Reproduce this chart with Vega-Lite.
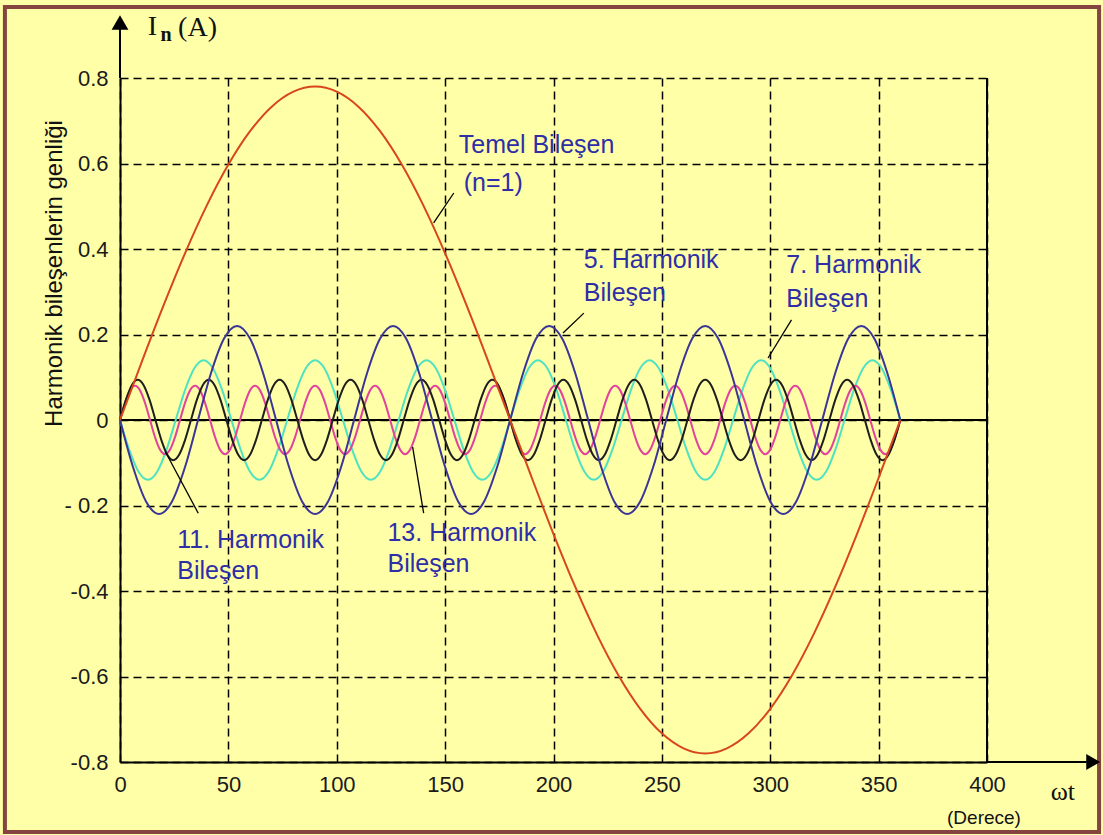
{
"$schema": "https://vega.github.io/schema/vega-lite/v6.json",
"width": 867, "height": 684,
"autosize": {"type": "none"},
"padding": {"left": 120, "top": 78, "right": 116, "bottom": 73},
"background": "#FFFFA8",
"config": {"view": {"stroke": null}, "font": "Liberation Sans"},
"datasets": {
"frame": [{"x":-53.1,"x2":451.7,"y":0.966,"y2":-0.964}],
"solid": [{"x":0,"y":0,"x2":400,"y2":0},{"x":400,"y":-0.8,"x2":400,"y2":0.8},{"x":0,"y":0.8,"x2":0,"y2":0.92},{"x":400,"y":-0.8,"x2":446,"y2":-0.8}],
"uparrow": [{"x":0,"y":0.93}],
"rightarrow": [{"x":449,"y":-0.8}],
"red": [{"x":0,"y":0},{"x":10,"y":0.1354},{"x":20,"y":0.2668},{"x":30,"y":0.39},{"x":40,"y":0.5014},{"x":50,"y":0.5975},{"x":60,"y":0.6755},{"x":70,"y":0.733},{"x":80,"y":0.7681},{"x":90,"y":0.78},{"x":100,"y":0.7681},{"x":110,"y":0.733},{"x":120,"y":0.6755},{"x":130,"y":0.5975},{"x":140,"y":0.5014},{"x":150,"y":0.39},{"x":160,"y":0.2668},{"x":170,"y":0.1354},{"x":180,"y":0},{"x":190,"y":-0.1354},{"x":200,"y":-0.2668},{"x":210,"y":-0.39},{"x":220,"y":-0.5014},{"x":230,"y":-0.5975},{"x":240,"y":-0.6755},{"x":250,"y":-0.733},{"x":260,"y":-0.7681},{"x":270,"y":-0.78},{"x":280,"y":-0.7681},{"x":290,"y":-0.733},{"x":300,"y":-0.6755},{"x":310,"y":-0.5975},{"x":320,"y":-0.5014},{"x":330,"y":-0.39},{"x":340,"y":-0.2668},{"x":350,"y":-0.1354},{"x":360,"y":0}],
"h5": [{"x":0,"y":0},{"x":6,"y":-0.11},{"x":12,"y":-0.1905},{"x":18,"y":-0.22},{"x":24,"y":-0.1905},{"x":30,"y":-0.11},{"x":36,"y":0},{"x":42,"y":0.11},{"x":48,"y":0.1905},{"x":54,"y":0.22},{"x":60,"y":0.1905},{"x":66,"y":0.11},
{"x":72,"y":0},{"x":78,"y":-0.11},{"x":84,"y":-0.1905},{"x":90,"y":-0.22},{"x":96,"y":-0.1905},{"x":102,"y":-0.11},{"x":108,"y":0},{"x":114,"y":0.11},{"x":120,"y":0.1905},{"x":126,"y":0.22},{"x":132,"y":0.1905},{"x":138,"y":0.11},
{"x":144,"y":0},{"x":150,"y":-0.11},{"x":156,"y":-0.1905},{"x":162,"y":-0.22},{"x":168,"y":-0.1905},{"x":174,"y":-0.11},{"x":180,"y":0},{"x":186,"y":0.11},{"x":192,"y":0.1905},{"x":198,"y":0.22},{"x":204,"y":0.1905},{"x":210,"y":0.11},
{"x":216,"y":0},{"x":222,"y":-0.11},{"x":228,"y":-0.1905},{"x":234,"y":-0.22},{"x":240,"y":-0.1905},{"x":246,"y":-0.11},{"x":252,"y":0},{"x":258,"y":0.11},{"x":264,"y":0.1905},{"x":270,"y":0.22},{"x":276,"y":0.1905},{"x":282,"y":0.11},
{"x":288,"y":0},{"x":294,"y":-0.11},{"x":300,"y":-0.1905},{"x":306,"y":-0.22},{"x":312,"y":-0.1905},{"x":318,"y":-0.11},{"x":324,"y":0},{"x":330,"y":0.11},{"x":336,"y":0.1905},{"x":342,"y":0.22},{"x":348,"y":0.1905},{"x":354,"y":0.11},{"x":360,"y":0}],
"h7": [{"x":0,"y":0},{"x":4.29,"y":-0.07},{"x":8.57,"y":-0.1212},{"x":12.86,"y":-0.14},{"x":17.14,"y":-0.1212},{"x":21.43,"y":-0.07},{"x":25.71,"y":0},{"x":30,"y":0.07},{"x":34.29,"y":0.1212},{"x":38.57,"y":0.14},{"x":42.86,"y":0.1212},{"x":47.14,"y":0.07},
{"x":51.43,"y":0},{"x":55.71,"y":-0.07},{"x":60,"y":-0.1212},{"x":64.29,"y":-0.14},{"x":68.57,"y":-0.1212},{"x":72.86,"y":-0.07},{"x":77.14,"y":0},{"x":81.43,"y":0.07},{"x":85.71,"y":0.1212},{"x":90,"y":0.14},{"x":94.29,"y":0.1212},{"x":98.57,"y":0.07},
{"x":102.86,"y":0},{"x":107.14,"y":-0.07},{"x":111.43,"y":-0.1212},{"x":115.71,"y":-0.14},{"x":120,"y":-0.1212},{"x":124.29,"y":-0.07},{"x":128.57,"y":0},{"x":132.86,"y":0.07},{"x":137.14,"y":0.1212},{"x":141.43,"y":0.14},{"x":145.71,"y":0.1212},{"x":150,"y":0.07},
{"x":154.29,"y":0},{"x":158.57,"y":-0.07},{"x":162.86,"y":-0.1212},{"x":167.14,"y":-0.14},{"x":171.43,"y":-0.1212},{"x":175.71,"y":-0.07},{"x":180,"y":0},{"x":184.29,"y":0.07},{"x":188.57,"y":0.1212},{"x":192.86,"y":0.14},{"x":197.14,"y":0.1212},{"x":201.43,"y":0.07},
{"x":205.71,"y":0},{"x":210,"y":-0.07},{"x":214.29,"y":-0.1212},{"x":218.57,"y":-0.14},{"x":222.86,"y":-0.1212},{"x":227.14,"y":-0.07},{"x":231.43,"y":0},{"x":235.71,"y":0.07},{"x":240,"y":0.1212},{"x":244.29,"y":0.14},{"x":248.57,"y":0.1212},{"x":252.86,"y":0.07},
{"x":257.14,"y":0},{"x":261.43,"y":-0.07},{"x":265.71,"y":-0.1212},{"x":270,"y":-0.14},{"x":274.29,"y":-0.1212},{"x":278.57,"y":-0.07},{"x":282.86,"y":0},{"x":287.14,"y":0.07},{"x":291.43,"y":0.1212},{"x":295.71,"y":0.14},{"x":300,"y":0.1212},{"x":304.29,"y":0.07},
{"x":308.57,"y":0},{"x":312.86,"y":-0.07},{"x":317.14,"y":-0.1212},{"x":321.43,"y":-0.14},{"x":325.71,"y":-0.1212},{"x":330,"y":-0.07},{"x":334.29,"y":0},{"x":338.57,"y":0.07},{"x":342.86,"y":0.1212},{"x":347.14,"y":0.14},{"x":351.43,"y":0.1212},{"x":355.71,"y":0.07},{"x":360,"y":0}],
"h11": [{"x":0,"y":0},{"x":2.73,"y":0.047},{"x":5.45,"y":0.0814},{"x":8.18,"y":0.094},{"x":10.91,"y":0.0814},{"x":13.64,"y":0.047},{"x":16.36,"y":0},{"x":19.09,"y":-0.047},{"x":21.82,"y":-0.0814},{"x":24.55,"y":-0.094},{"x":27.27,"y":-0.0814},{"x":30,"y":-0.047},
{"x":32.73,"y":0},{"x":35.45,"y":0.047},{"x":38.18,"y":0.0814},{"x":40.91,"y":0.094},{"x":43.64,"y":0.0814},{"x":46.36,"y":0.047},{"x":49.09,"y":0},{"x":51.82,"y":-0.047},{"x":54.55,"y":-0.0814},{"x":57.27,"y":-0.094},{"x":60,"y":-0.0814},{"x":62.73,"y":-0.047},
{"x":65.45,"y":0},{"x":68.18,"y":0.047},{"x":70.91,"y":0.0814},{"x":73.64,"y":0.094},{"x":76.36,"y":0.0814},{"x":79.09,"y":0.047},{"x":81.82,"y":0},{"x":84.55,"y":-0.047},{"x":87.27,"y":-0.0814},{"x":90,"y":-0.094},{"x":92.73,"y":-0.0814},{"x":95.45,"y":-0.047},
{"x":98.18,"y":0},{"x":100.91,"y":0.047},{"x":103.64,"y":0.0814},{"x":106.36,"y":0.094},{"x":109.09,"y":0.0814},{"x":111.82,"y":0.047},{"x":114.55,"y":0},{"x":117.27,"y":-0.047},{"x":120,"y":-0.0814},{"x":122.73,"y":-0.094},{"x":125.45,"y":-0.0814},{"x":128.18,"y":-0.047},
{"x":130.91,"y":0},{"x":133.64,"y":0.047},{"x":136.36,"y":0.0814},{"x":139.09,"y":0.094},{"x":141.82,"y":0.0814},{"x":144.55,"y":0.047},{"x":147.27,"y":0},{"x":150,"y":-0.047},{"x":152.73,"y":-0.0814},{"x":155.45,"y":-0.094},{"x":158.18,"y":-0.0814},{"x":160.91,"y":-0.047},
{"x":163.64,"y":0},{"x":166.36,"y":0.047},{"x":169.09,"y":0.0814},{"x":171.82,"y":0.094},{"x":174.55,"y":0.0814},{"x":177.27,"y":0.047},{"x":180,"y":0},{"x":182.73,"y":-0.047},{"x":185.45,"y":-0.0814},{"x":188.18,"y":-0.094},{"x":190.91,"y":-0.0814},{"x":193.64,"y":-0.047},
{"x":196.36,"y":0},{"x":199.09,"y":0.047},{"x":201.82,"y":0.0814},{"x":204.55,"y":0.094},{"x":207.27,"y":0.0814},{"x":210,"y":0.047},{"x":212.73,"y":0},{"x":215.45,"y":-0.047},{"x":218.18,"y":-0.0814},{"x":220.91,"y":-0.094},{"x":223.64,"y":-0.0814},{"x":226.36,"y":-0.047},
{"x":229.09,"y":0},{"x":231.82,"y":0.047},{"x":234.55,"y":0.0814},{"x":237.27,"y":0.094},{"x":240,"y":0.0814},{"x":242.73,"y":0.047},{"x":245.45,"y":0},{"x":248.18,"y":-0.047},{"x":250.91,"y":-0.0814},{"x":253.64,"y":-0.094},{"x":256.36,"y":-0.0814},{"x":259.09,"y":-0.047},
{"x":261.82,"y":0},{"x":264.55,"y":0.047},{"x":267.27,"y":0.0814},{"x":270,"y":0.094},{"x":272.73,"y":0.0814},{"x":275.45,"y":0.047},{"x":278.18,"y":0},{"x":280.91,"y":-0.047},{"x":283.64,"y":-0.0814},{"x":286.36,"y":-0.094},{"x":289.09,"y":-0.0814},{"x":291.82,"y":-0.047},
{"x":294.55,"y":0},{"x":297.27,"y":0.047},{"x":300,"y":0.0814},{"x":302.73,"y":0.094},{"x":305.45,"y":0.0814},{"x":308.18,"y":0.047},{"x":310.91,"y":0},{"x":313.64,"y":-0.047},{"x":316.36,"y":-0.0814},{"x":319.09,"y":-0.094},{"x":321.82,"y":-0.0814},{"x":324.55,"y":-0.047},
{"x":327.27,"y":0},{"x":330,"y":0.047},{"x":332.73,"y":0.0814},{"x":335.45,"y":0.094},{"x":338.18,"y":0.0814},{"x":340.91,"y":0.047},{"x":343.64,"y":0},{"x":346.36,"y":-0.047},{"x":349.09,"y":-0.0814},{"x":351.82,"y":-0.094},{"x":354.55,"y":-0.0814},{"x":357.27,"y":-0.047},{"x":360,"y":0}],
"h13": [{"x":0,"y":0},{"x":2.31,"y":0.04},{"x":4.62,"y":0.0693},{"x":6.92,"y":0.08},{"x":9.23,"y":0.0693},{"x":11.54,"y":0.04},{"x":13.85,"y":0},{"x":16.15,"y":-0.04},{"x":18.46,"y":-0.0693},{"x":20.77,"y":-0.08},{"x":23.08,"y":-0.0693},{"x":25.38,"y":-0.04},{"x":27.69,"y":0},
{"x":30,"y":0.04},{"x":32.31,"y":0.0693},{"x":34.62,"y":0.08},{"x":36.92,"y":0.0693},{"x":39.23,"y":0.04},{"x":41.54,"y":0},{"x":43.85,"y":-0.04},{"x":46.15,"y":-0.0693},{"x":48.46,"y":-0.08},{"x":50.77,"y":-0.0693},{"x":53.08,"y":-0.04},{"x":55.38,"y":0},{"x":57.69,"y":0.04},
{"x":60,"y":0.0693},{"x":62.31,"y":0.08},{"x":64.62,"y":0.0693},{"x":66.92,"y":0.04},{"x":69.23,"y":0},{"x":71.54,"y":-0.04},{"x":73.85,"y":-0.0693},{"x":76.15,"y":-0.08},{"x":78.46,"y":-0.0693},{"x":80.77,"y":-0.04},{"x":83.08,"y":0},{"x":85.38,"y":0.04},{"x":87.69,"y":0.0693},
{"x":90,"y":0.08},{"x":92.31,"y":0.0693},{"x":94.62,"y":0.04},{"x":96.92,"y":0},{"x":99.23,"y":-0.04},{"x":101.54,"y":-0.0693},{"x":103.85,"y":-0.08},{"x":106.15,"y":-0.0693},{"x":108.46,"y":-0.04},{"x":110.77,"y":0},{"x":113.08,"y":0.04},{"x":115.38,"y":0.0693},{"x":117.69,"y":0.08},
{"x":120,"y":0.0693},{"x":122.31,"y":0.04},{"x":124.62,"y":0},{"x":126.92,"y":-0.04},{"x":129.23,"y":-0.0693},{"x":131.54,"y":-0.08},{"x":133.85,"y":-0.0693},{"x":136.15,"y":-0.04},{"x":138.46,"y":0},{"x":140.77,"y":0.04},{"x":143.08,"y":0.0693},{"x":145.38,"y":0.08},{"x":147.69,"y":0.0693},
{"x":150,"y":0.04},{"x":152.31,"y":0},{"x":154.62,"y":-0.04},{"x":156.92,"y":-0.0693},{"x":159.23,"y":-0.08},{"x":161.54,"y":-0.0693},{"x":163.85,"y":-0.04},{"x":166.15,"y":0},{"x":168.46,"y":0.04},{"x":170.77,"y":0.0693},{"x":173.08,"y":0.08},{"x":175.38,"y":0.0693},{"x":177.69,"y":0.04},
{"x":180,"y":0},{"x":182.31,"y":-0.04},{"x":184.62,"y":-0.0693},{"x":186.92,"y":-0.08},{"x":189.23,"y":-0.0693},{"x":191.54,"y":-0.04},{"x":193.85,"y":0},{"x":196.15,"y":0.04},{"x":198.46,"y":0.0693},{"x":200.77,"y":0.08},{"x":203.08,"y":0.0693},{"x":205.38,"y":0.04},{"x":207.69,"y":0},
{"x":210,"y":-0.04},{"x":212.31,"y":-0.0693},{"x":214.62,"y":-0.08},{"x":216.92,"y":-0.0693},{"x":219.23,"y":-0.04},{"x":221.54,"y":0},{"x":223.85,"y":0.04},{"x":226.15,"y":0.0693},{"x":228.46,"y":0.08},{"x":230.77,"y":0.0693},{"x":233.08,"y":0.04},{"x":235.38,"y":0},{"x":237.69,"y":-0.04},
{"x":240,"y":-0.0693},{"x":242.31,"y":-0.08},{"x":244.62,"y":-0.0693},{"x":246.92,"y":-0.04},{"x":249.23,"y":0},{"x":251.54,"y":0.04},{"x":253.85,"y":0.0693},{"x":256.15,"y":0.08},{"x":258.46,"y":0.0693},{"x":260.77,"y":0.04},{"x":263.08,"y":0},{"x":265.38,"y":-0.04},{"x":267.69,"y":-0.0693},
{"x":270,"y":-0.08},{"x":272.31,"y":-0.0693},{"x":274.62,"y":-0.04},{"x":276.92,"y":0},{"x":279.23,"y":0.04},{"x":281.54,"y":0.0693},{"x":283.85,"y":0.08},{"x":286.15,"y":0.0693},{"x":288.46,"y":0.04},{"x":290.77,"y":0},{"x":293.08,"y":-0.04},{"x":295.38,"y":-0.0693},{"x":297.69,"y":-0.08},
{"x":300,"y":-0.0693},{"x":302.31,"y":-0.04},{"x":304.62,"y":0},{"x":306.92,"y":0.04},{"x":309.23,"y":0.0693},{"x":311.54,"y":0.08},{"x":313.85,"y":0.0693},{"x":316.15,"y":0.04},{"x":318.46,"y":0},{"x":320.77,"y":-0.04},{"x":323.08,"y":-0.0693},{"x":325.38,"y":-0.08},{"x":327.69,"y":-0.0693},
{"x":330,"y":-0.04},{"x":332.31,"y":0},{"x":334.62,"y":0.04},{"x":336.92,"y":0.0693},{"x":339.23,"y":0.08},{"x":341.54,"y":0.0693},{"x":343.85,"y":0.04},{"x":346.15,"y":0},{"x":348.46,"y":-0.04},{"x":350.77,"y":-0.0693},{"x":353.08,"y":-0.08},{"x":355.38,"y":-0.0693},{"x":357.69,"y":-0.04},{"x":360,"y":0}],
"notes": [{"x":156.3,"y":0.643,"t":"Temel Bileşen"},{"x":158.6,"y":0.554,"t":"(n=1)"},{"x":214,"y":0.374,"t":"5. Harmonik"},{"x":214,"y":0.296,"t":"Bileşen"},{"x":307.4,"y":0.363,"t":"7. Harmonik"},{"x":307.4,"y":0.283,"t":"Bileşen"},{"x":26.4,"y":-0.281,"t":"11. Harmonik"},{"x":26.4,"y":-0.354,"t":"Bileşen"},{"x":123.4,"y":-0.264,"t":"13. Harmonik"},{"x":123.4,"y":-0.338,"t":"Bileşen"}],
"leaders": [{"x":154,"y":0.531,"x2":144.7,"y2":0.461},{"x":214,"y":0.25,"x2":204.4,"y2":0.2035},{"x":309.8,"y":0.234,"x2":299,"y2":0.145},{"x":21,"y":-0.075,"x2":36.1,"y2":-0.218},{"x":135,"y":-0.063,"x2":140.1,"y2":-0.218}]
},
"encoding": {
"x": {"field": "x", "type": "quantitative", "scale": {"domain": [0, 400], "nice": false, "zero": false},
 "axis": {"title": null, "values": [0,50,100,150,200,250,300,350,400], "grid": true, "gridDash": [8,5], "gridColor": "#000000", "gridWidth": 1.5, "gridOpacity": 1,
  "domainColor": "#000000", "domainWidth": 2, "ticks": false, "tickSize": 0, "labelFontSize": 22, "labelFont": "Liberation Sans", "labelColor": "#1a1a1a", "labelPadding": 12, "labelFlush": false}},
"y": {"field": "y", "type": "quantitative", "scale": {"domain": [-0.8, 0.8], "nice": false, "zero": false},
 "axis": {"title": "Harmonik bileşenlerin genliği", "values": [-0.8,-0.6,-0.4,-0.2,0,0.2,0.4,0.6,0.8], "grid": true, "gridDash": [8,5], "gridColor": "#000000", "gridWidth": 1.5, "gridOpacity": 1,
  "domainColor": "#000000", "domainWidth": 2, "ticks": false, "tickSize": 0, "labelFontSize": 22, "labelFont": "Liberation Sans", "labelColor": "#1a1a1a", "labelPadding": 12, "labelFlush": false,
  "labelExpr": "abs(datum.value) < 0.001 ? '0' : (abs(datum.value + 0.2) < 0.001 ? '- 0.2' : (datum.value < 0 ? '-' : '') + format(abs(datum.value), '.1f'))",
  "titleFontSize": 24, "titleFont": "Liberation Sans", "titleFontWeight": "normal", "titleColor": "#111111", "titleAngle": -90, "titleX": -66, "titleY": 195, "titleAlign": "center", "titleBaseline": "middle"}}
},
"layer": [
{"data": {"name": "frame"}, "mark": {"type": "rect", "filled": false, "stroke": "#854440", "strokeWidth": 4, "clip": false},
 "encoding": {"x2": {"field": "x2"}, "y2": {"field": "y2"}}},
{"data": {"name": "solid"}, "mark": {"type": "rule", "color": "#000000", "strokeWidth": 2, "clip": false},
 "encoding": {"x2": {"field": "x2"}, "y2": {"field": "y2"}}},
{"data": {"name": "uparrow"}, "mark": {"type": "point", "shape": "triangle-up", "filled": true, "color": "#000000", "opacity": 1, "size": 280, "clip": false}},
{"data": {"name": "rightarrow"}, "mark": {"type": "point", "shape": "triangle-right", "filled": true, "color": "#000000", "opacity": 1, "size": 260, "clip": false}},
{"data": {"name": "h7"}, "mark": {"type": "line", "color": "#4FE2C2", "strokeWidth": 2, "interpolate": "monotone"}},
{"data": {"name": "h13"}, "mark": {"type": "line", "color": "#E0449C", "strokeWidth": 2, "interpolate": "monotone"}},
{"data": {"name": "h11"}, "mark": {"type": "line", "color": "#1E1E1E", "strokeWidth": 2, "interpolate": "monotone"}},
{"data": {"name": "h5"}, "mark": {"type": "line", "color": "#3A3596", "strokeWidth": 2, "interpolate": "monotone"}},
{"data": {"name": "red"}, "mark": {"type": "line", "color": "#D8461C", "strokeWidth": 2, "interpolate": "monotone"}},
{"data": {"name": "leaders"}, "mark": {"type": "rule", "color": "#000000", "strokeWidth": 1.3},
 "encoding": {"x2": {"field": "x2"}, "y2": {"field": "y2"}}},
{"data": {"name": "notes"}, "mark": {"type": "text", "align": "left", "baseline": "middle", "fontSize": 25, "font": "Liberation Sans", "color": "#2E2EA6"},
 "encoding": {"text": {"field": "t"}}},
{"data": {"values": [{"x": 15, "y": 0.919, "t": "I"}]}, "mark": {"type": "text", "align": "center", "baseline": "middle", "fontSize": 28, "font": "Liberation Serif", "color": "#111111"},
 "encoding": {"text": {"field": "t"}}},
{"data": {"values": [{"x": 21.3, "y": 0.9, "t": "n"}]}, "mark": {"type": "text", "align": "center", "baseline": "middle", "fontSize": 20, "fontWeight": "bold", "font": "Liberation Serif", "color": "#111111"},
 "encoding": {"text": {"field": "t"}}},
{"data": {"values": [{"x": 26.8, "y": 0.917, "t": "(A)"}]}, "mark": {"type": "text", "align": "left", "baseline": "middle", "fontSize": 28, "font": "Liberation Serif", "color": "#111111"},
 "encoding": {"text": {"field": "t"}}},
{"data": {"values": [{"x": 435, "y": -0.87, "t": "ωt"}]}, "mark": {"type": "text", "align": "center", "baseline": "middle", "fontSize": 26, "font": "Liberation Serif", "color": "#111111"},
 "encoding": {"text": {"field": "t"}}},
{"data": {"values": [{"x": 398.6, "y": -0.931, "t": "(Derece)"}]}, "mark": {"type": "text", "align": "center", "baseline": "middle", "fontSize": 19, "font": "Liberation Sans", "color": "#111111"},
 "encoding": {"text": {"field": "t"}}}
]
}
